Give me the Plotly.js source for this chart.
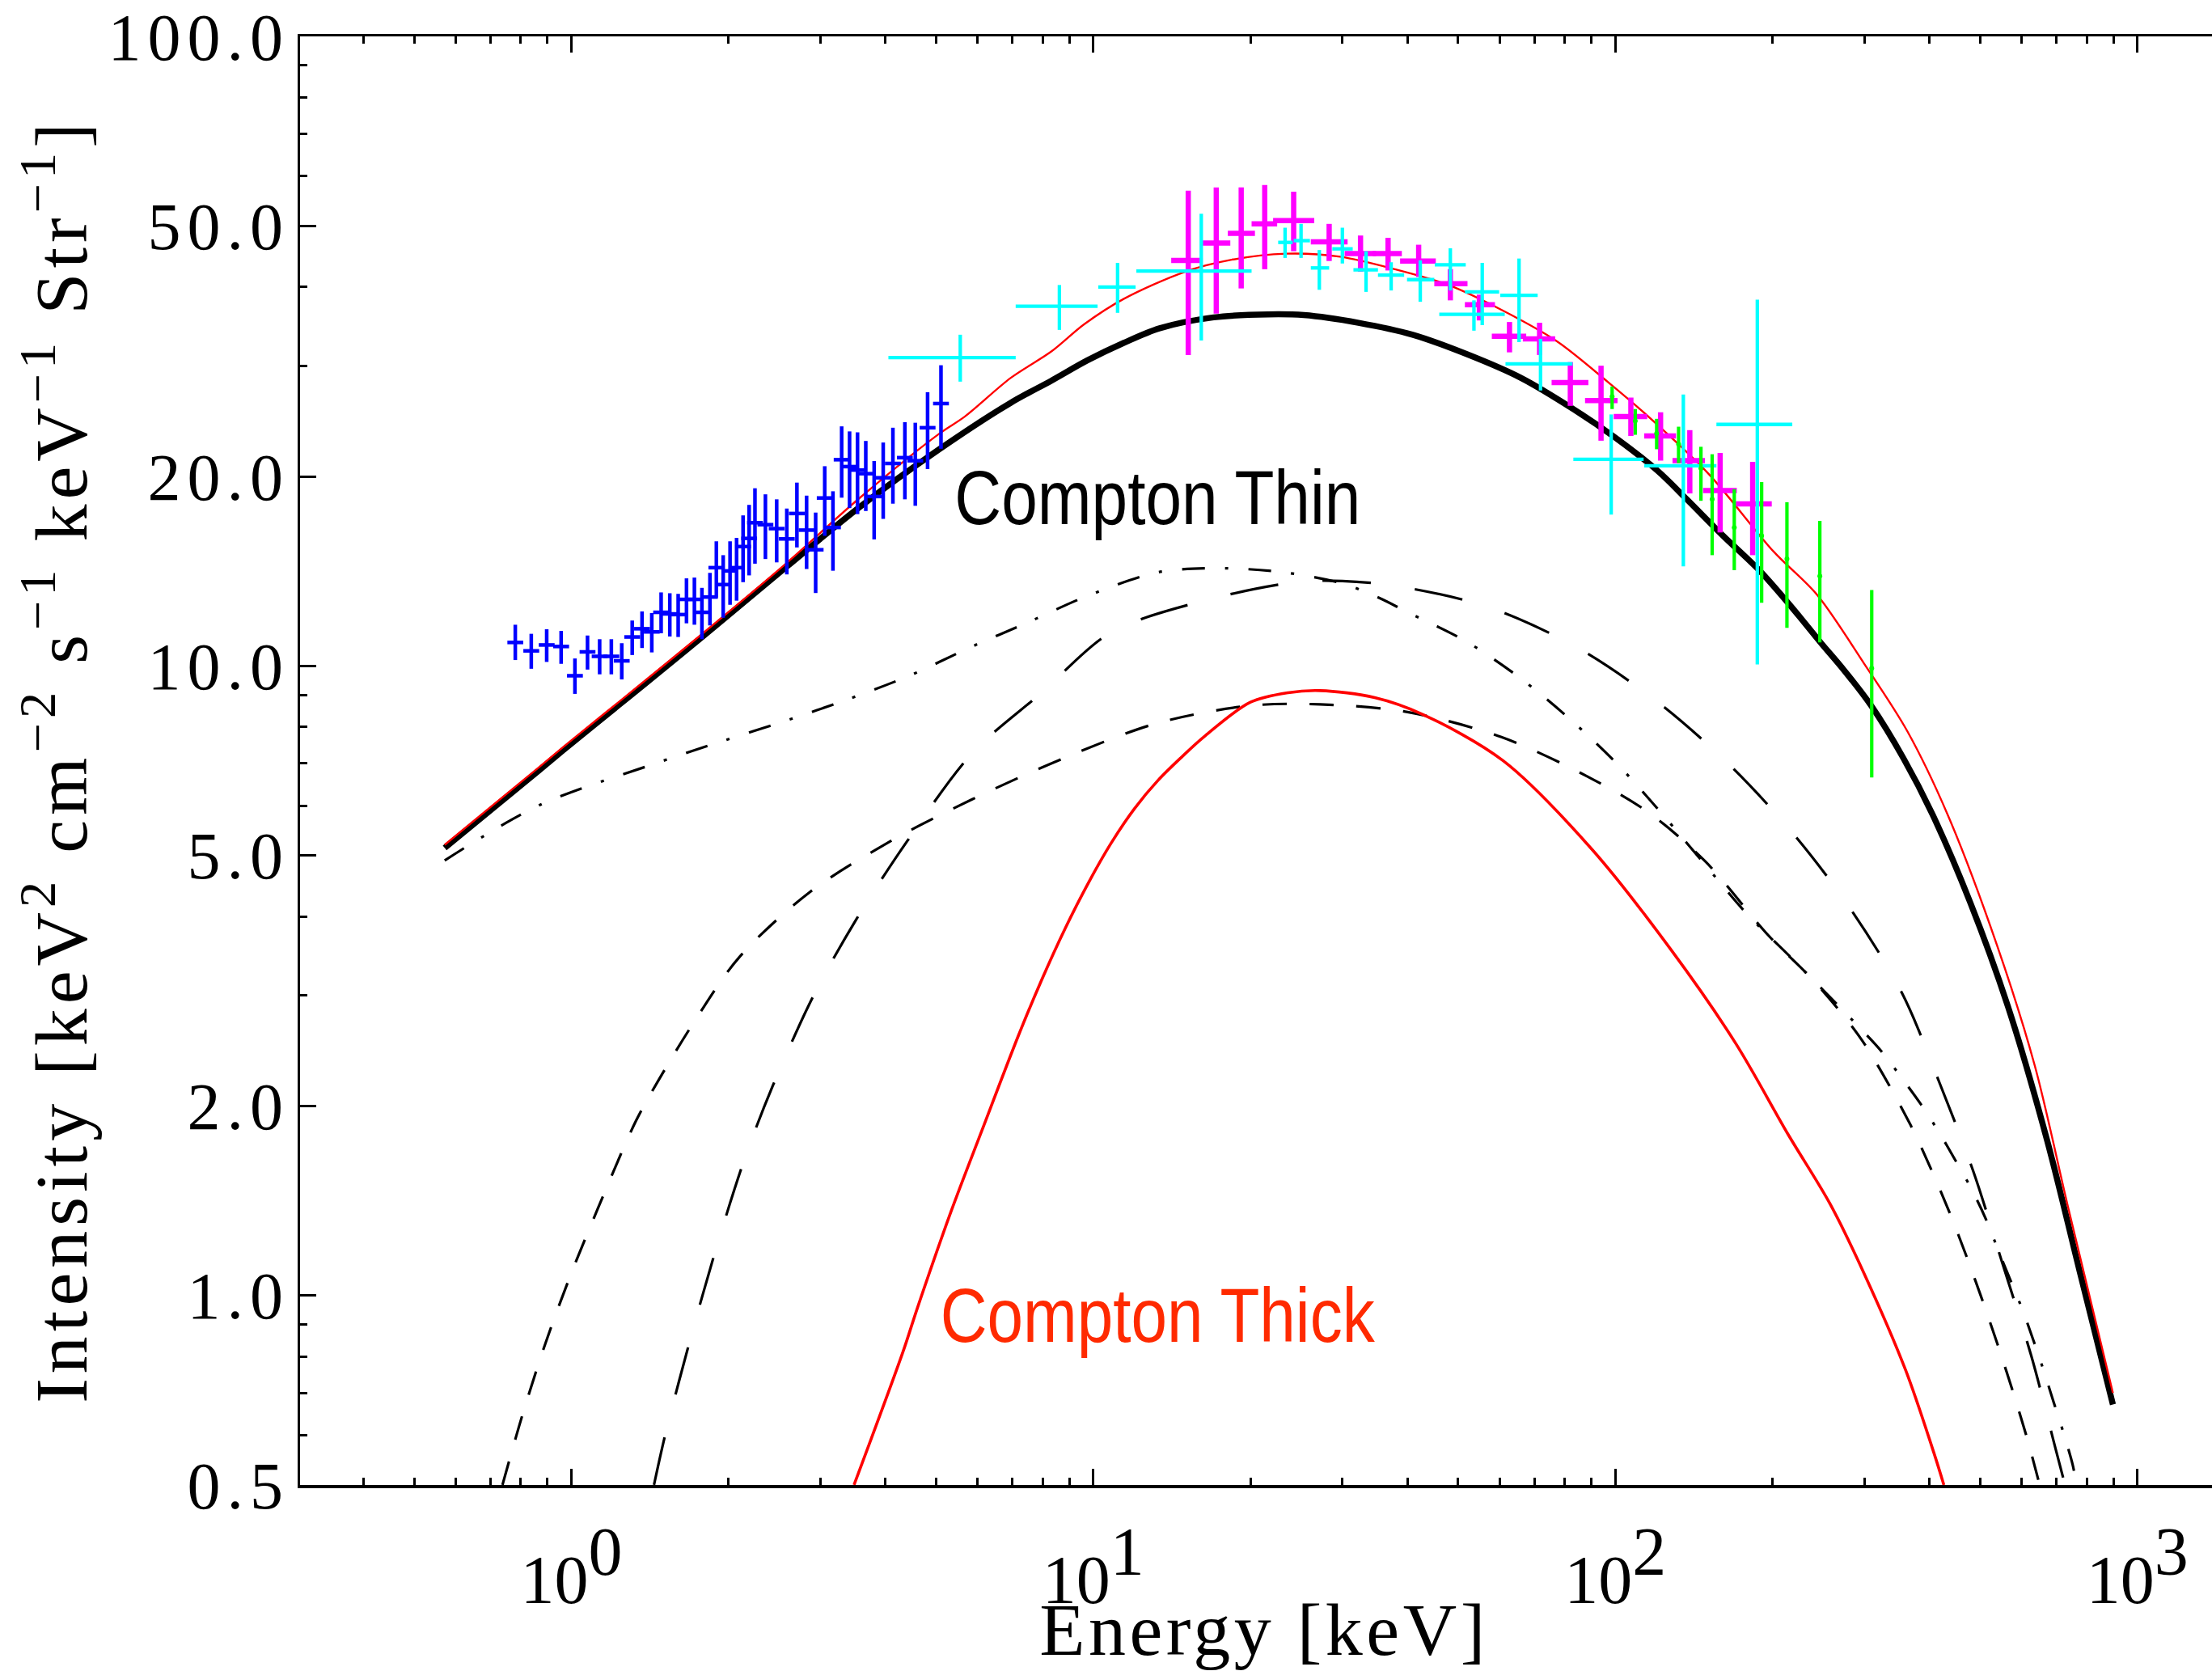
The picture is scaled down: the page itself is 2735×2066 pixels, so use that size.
<!DOCTYPE html>
<html><head><meta charset="utf-8">
<script src="https://cdn.plot.ly/plotly-3.0.1.min.js"></script>
<style>
html,body{margin:0;padding:0;background:#fff;} #chart{width:2735px;height:2066px;}
.xtitle{letter-spacing:4.5px;}
.ytitle{letter-spacing:6px;}
.ytick text{letter-spacing:8px;}
</style>
</head><body><div id="chart"></div>
<script>
// ---------- data points (Energy keV, Intensity) ----------
const blueE = [0.781,0.838,0.897,0.956,1.016,1.074,1.133,1.193,1.249,1.308,1.366,1.426,1.486,1.544,1.602,1.662,1.721,1.779,1.843,1.896,1.954,2.014,2.073,2.133,2.191,2.248,2.354,2.474,2.587,2.705,2.823,2.938,3.058,3.171,3.295,3.412,3.534,3.665,3.803,3.958,4.131,4.355,4.560,4.814,5.107];
const blueY = [10.90,10.57,10.80,10.74,9.65,10.53,10.36,10.36,10.19,11.12,11.46,11.33,12.17,12.10,12.07,12.76,12.76,12.17,12.87,14.33,13.47,14.16,14.33,15.48,15.95,16.89,16.77,16.53,15.92,17.47,16.44,15.30,18.49,16.60,21.27,20.74,20.48,20.21,18.59,19.91,20.98,21.43,21.19,23.91,26.12];
const blueYhi = [11.63,11.25,11.44,11.37,10.28,11.18,11.03,11.03,10.87,11.81,12.21,12.14,13.09,13.05,13.02,13.78,13.82,13.31,14.06,15.78,15.00,15.78,15.98,17.35,18.03,19.16,18.74,18.40,17.79,19.56,18.65,17.53,20.77,18.95,24.03,23.59,23.51,22.78,21.17,22.65,23.91,24.40,24.35,27.23,30.05];
const blueYlo = [10.22,9.90,10.15,10.08,9.03,9.87,9.70,9.70,9.52,10.41,10.68,10.51,11.27,11.14,11.12,11.69,11.63,11.03,11.60,12.85,11.93,12.51,12.70,13.59,13.93,14.54,14.79,14.61,13.98,15.43,14.26,13.06,16.10,14.17,18.51,17.82,17.43,17.63,15.89,17.13,18.11,18.40,17.97,20.55,22.14];

const cyanE   = [5.56,8.61,11.13,16.1,23.3,25.0,27.1,30.0,33.3,37.2,42.3,48.3,55.6,53.6,65.4,71.9,98.2,135,187.1];
const cyanElo = [4.05,7.10,10.22,12.09,22.6,24.2,26.1,28.7,31.5,35.1,39.9,45.1,51.5,46.0,60.2,61.6,83.1,113.6,156.2];
const cyanEhi = [7.10,10.19,12.05,20.1,24.1,26.0,28.3,31.4,35.1,39.4,45.0,51.7,59.9,61.4,71.0,82.8,113.3,156.2,218.3];
const cyanY   = [30.9,37.3,40.0,42.4,47.1,47.4,42.9,46.0,42.6,41.8,41.1,43.4,39.3,36.2,38.8,30.2,21.3,20.8,24.2];
const cyanYlo = [28.3,34.2,36.4,32.9,44.5,44.5,39.6,43.6,39.3,39.5,37.9,39.5,34.8,34.1,32.7,27.4,17.4,14.4,10.06];
const cyanYhi = [33.6,40.3,43.7,52.3,49.7,50.4,45.8,49.7,45.6,43.8,44.1,46.1,43.7,38.1,44.4,33.1,25.1,27.0,38.2];

const magE   = [15.2,17.2,19.2,21.3,24.2,28.3,32.5,36.7,42.0,48.3,54.9,62.7,71.6,82.0,93.9,107.1,122.1,138.9,158.8,183.3];
const magElo = [14.1,16.2,18.1,20.1,22.1,26.1,30.3,34.3,38.7,45.0,51.5,58.0,66.5,75.5,87.5,99.3,113.6,128.7,147.3,170.1];
const magEhi = [16.2,18.3,20.4,22.5,26.5,30.7,34.8,39.0,45.3,52.1,58.8,67.5,76.7,88.8,101.0,115.1,130.7,148.5,170.9,199.4];
const magY   = [44.1,47.0,48.7,50.4,51.0,47.2,45.2,45.2,44.0,40.5,37.5,33.4,33.1,28.2,26.4,24.9,23.2,21.2,19.0,18.1];
const magYlo = [31.2,36.3,39.8,42.7,45.6,44.0,42.3,42.5,41.5,38.1,35.4,31.5,31.2,25.9,22.8,23.2,21.2,18.8,16.3,15.0];
const magYhi = [56.9,57.6,57.6,58.1,56.7,50.4,48.3,47.9,46.7,42.7,38.9,35.2,35.1,30.4,30.0,26.7,25.3,23.7,21.8,21.1];

const greenE  = [98.6,109.2,120.0,132.2,145.9,153.3,169.0,190.7,213.2,246.5,309.9];
const greenY  = [26.8,24.5,23.4,22.5,20.6,18.4,16.6,16.1,14.8,13.9,9.92];
const greenLo = [25.6,23.3,22.1,21.0,18.3,15.0,14.2,12.6,11.5,10.9,6.65];
const greenHi = [27.8,25.6,24.7,24.0,22.3,21.7,19.1,19.6,18.2,17.0,13.2];

// ---------- model curves ----------
const thinTotalE = [0.572,0.866,1.0,1.229,1.397,1.80,2.59,3.57,5.07,6.95,8.31,9.75,11.43,13.4,17.0,21.6,25.3,32.2,40.9,51.9,65.9,83.7,99.7,120.7,137.1,160.9,188.6,217.7,247.3,274.2,309.1,356.6,404.8,478.6,565,671,776,898];
const thinTotalY = [5.14,6.82,7.53,8.65,9.43,11.2,14.4,17.9,22.1,26.2,28.4,30.6,32.6,34.4,35.8,36.2,36.1,35.1,33.6,31.3,28.7,25.5,23.1,20.4,18.4,16.1,14.2,12.4,10.9,9.85,8.65,7.13,5.82,4.21,2.88,1.77,1.09,0.671];

const grandTotalE = [0.572,0.866,1.0,1.229,1.80,2.59,3.57,5.07,5.67,6.95,8.31,9.6,11.43,14.98,18.4,23.4,29.7,37.8,47.9,60.9,77.3,96.6,117,150.9,201,243.4,299.4,362.2,433,538,636,737,898];
const grandTotalY = [5.20,6.90,7.62,8.75,11.33,14.6,18.5,23.4,24.9,28.7,31.6,34.9,38.3,42.3,44.2,45.2,44.7,42.7,40.3,36.7,32.8,28.3,24.7,20.2,15.2,12.98,10.1,7.89,5.81,3.61,2.32,1.38,0.70];

const thickE = [3.48,4.32,4.60,5.34,6.12,7.19,7.96,8.82,9.78,10.8,11.98,13.3,14.72,16.3,20.0,23.6,27.2,34.6,42.6,61.0,90.1,127.9,170.3,214.5,257.6,299.6,360.1,408.3,426];
const thickY = [0.5,0.814,0.954,1.36,1.83,2.59,3.17,3.82,4.52,5.22,5.93,6.58,7.15,7.72,8.76,9.07,9.14,8.91,8.39,7.07,5.12,3.54,2.51,1.80,1.40,1.084,0.76,0.56,0.5];

const dashDotE = [0.572,0.865,1.485,1.94,2.58,3.37,4.44,5.86,7.49,9.78,13.3,17.3,23.1,30.2,35.5,39.8,51.6,65.5,81.9,101,122.5,147.5,178.1,218.7,293,323.8,353.2,385.3,416.4,448.1,480.4,512.2,549.5,601.6,632.2,662.2,691.3,722.5,752,765];
const dashDotY = [4.91,6.0,7.05,7.59,8.19,8.84,9.65,10.74,11.73,12.94,14.09,14.3,14.09,13.5,12.8,12.2,10.96,9.59,8.23,6.98,5.84,4.87,4.05,3.42,2.67,2.44,2.22,2.01,1.82,1.64,1.48,1.325,1.144,0.952,0.849,0.758,0.677,0.604,0.538,0.5];

const longDashE = [1.44,1.512,1.685,1.891,2.151,2.43,2.92,3.51,4.40,5.86,7.96,10.8,16.3,24.6,30.0,38.1,57.2,84.5,120,165,219.8,283.5,354.3,417.6,485.7,551.3,626.9,697.9,727];
const longDashY = [0.5,0.599,0.844,1.182,1.654,2.15,3.01,3.95,5.27,7.27,9.07,11.3,12.7,13.6,13.65,13.4,12.4,10.7,8.79,6.98,5.40,4.09,3.02,2.18,1.57,1.126,0.80,0.569,0.5];

const shortDashE = [0.738,0.807,0.892,0.997,1.122,1.33,1.475,1.748,2.10,2.86,4.09,5.86,8.82,13.3,20.0,27.2,40.0,60.5,88.6,116.2,148.8,196.6,241.7,297.2,367.2,402.2,437.5,471.6,506.8,543.3,580,616.5,650];
const shortDashY = [0.5,0.648,0.839,1.078,1.369,1.894,2.21,2.78,3.45,4.37,5.27,6.14,7.15,8.12,8.65,8.69,8.45,7.71,6.67,5.84,4.89,3.73,3.14,2.54,1.87,1.59,1.35,1.149,0.974,0.823,0.696,0.589,0.5];

// ---------- axes ticks ----------
const xTickVals = [1,10,100,1000];
const xTickExp  = ['0','1','2','3'];
const xMinorVals = [0.4,0.5,0.6,0.7,0.8,0.9,2,3,4,5,6,7,8,9,20,30,40,50,60,70,80,90,200,300,400,500,600,700,800,900];
const yTickVals = [0.5,1,2,5,10,20,50,100];
const yTickText = ['0.5','1.0','2.0','5.0','10.0','20.0','50.0','100.0'];
const yMinorVals = [0.6,0.7,0.8,0.9,3,4,6,7,8,9,30,40,60,70,80,90];

const labelThin = 'Compton Thin';
const labelThick = 'Compton Thick';

// ---------- build traces ----------
const sub = (a,b) => a.map((v,i)=>v-b[i]);
function curve(x,y,color,width,dash){
  return {type:'scatter',mode:'lines',x:x,y:y,hoverinfo:'skip',
    line:{color:color,width:width,dash:dash,shape:'spline',smoothing:0.9}};
}
function errPts(x,y,xlo,xhi,ylo,yhi,color,thick,marker){
  const t = {type:'scatter',mode:'markers',x:x,y:y,hoverinfo:'skip',marker:marker,
    error_y:{type:'data',symmetric:false,array:sub(yhi,y),arrayminus:sub(y,ylo),color:color,thickness:thick,width:0}};
  if(xlo){ t.error_x = {type:'data',symmetric:false,array:sub(xhi,x),arrayminus:sub(x,xlo),color:color,thickness:thick,width:0}; }
  return t;
}
const traces = [
  curve(shortDashE, shortDashY, '#000', 3.2, '30px,28px'),
  curve(longDashE, longDashY, '#000', 3.2, '60px,55px'),
  curve(dashDotE, dashDotY, '#000', 3.2, '28px,25px,4px,25px'),
  curve(thickE, thickY, '#ff0000', 3.6, 'solid'),
  curve(thinTotalE, thinTotalY, '#000', 7.5, 'solid'),
  curve(grandTotalE, grandTotalY, '#ff0000', 2.4, 'solid'),
  errPts(blueE, blueY, null, null, blueYlo, blueYhi, '#0000ff', 4.5,
         {symbol:'line-ew',size:14,color:'#0000ff',line:{color:'#0000ff',width:4.5}}),
  errPts(magE, magY, magElo, magEhi, magYlo, magYhi, '#ff00ff', 6.5, {size:1,color:'#ff00ff'}),
  errPts(cyanE, cyanY, cyanElo, cyanEhi, cyanYlo, cyanYhi, '#00ffff', 4.3, {size:1,color:'#00ffff'}),
  errPts(greenE, greenY, null, null, greenLo, greenHi, '#00ff00', 4.2, {size:6,color:'#00ff00'})
];

const serif = 'Liberation Serif, DejaVu Serif, serif';
const layout = {
  width:2735, height:2066,
  margin:{l:371, r:0, t:45, b:230},
  paper_bgcolor:'#fff', plot_bgcolor:'#fff',
  showlegend:false, hovermode:false,
  xaxis:{type:'log', range:[-0.5197, 3.1431], tickmode:'array', tickvals:xTickVals,
    ticktext:xTickExp.map(e => '10<sup><span style="font-size:84px">'+e+'</span></sup>'),
    ticks:'inside', ticklen:20, tickwidth:3, tickcolor:'#000', showline:true, linewidth:3.5, linecolor:'#000',
    mirror:'ticks', showgrid:false, zeroline:false, tickfont:{family:serif, size:84, color:'#000'},
    ticklabelstandoff:42, automargin:false,
    minor:{tickmode:'array', tickvals:xMinorVals, ticks:'inside', ticklen:9, tickwidth:3, tickcolor:'#000', showgrid:false},
    title:{text:'Energy [keV]', font:{family:serif, size:92, color:'#000'}, standoff:16}},
  yaxis:{type:'log', range:[-0.30115, 2.0003], tickmode:'array', tickvals:yTickVals, ticktext:yTickText,
    ticks:'inside', ticklen:20, tickwidth:3, tickcolor:'#000', showline:true, linewidth:3.5, linecolor:'#000',
    mirror:false, showgrid:false, zeroline:false, tickfont:{family:serif, size:82, color:'#000'},
    ticklabelstandoff:-7, automargin:false,
    minor:{tickmode:'array', tickvals:yMinorVals, ticks:'inside', ticklen:9, tickwidth:3, tickcolor:'#000', showgrid:false},
    title:{text:'Intensity [keV<sup>2</sup> cm<sup>\u22122</sup> s<sup>\u22121</sup> keV<sup>\u22121</sup> Str<sup>\u22121</sup>]',
           font:{family:serif, size:92, color:'#000'}, standoff:11}},
  annotations:[
    {xref:'paper', yref:'paper', x:0.4488, y:0.6817, xanchor:'center', yanchor:'middle', showarrow:false,
     text:labelThin, font:{family:'Liberation Sans, Arial, sans-serif', size:94, color:'#000'}},
    {xref:'paper', yref:'paper', x:0.4488, y:0.1172, xanchor:'center', yanchor:'middle', showarrow:false,
     text:labelThick, font:{family:'Liberation Sans, Arial, sans-serif', size:94, color:'#ff2a00'}}
  ]
};
Plotly.newPlot('chart', traces, layout, {staticPlot:true, displayModeBar:false}).then(function(gd){
  // condensed look of the original label font: squeeze glyphs to the reference widths
  gd.querySelectorAll('text.annotation-text').forEach(function(t){
    var w = t.textContent === labelThin ? 502 : 537;
    t.setAttribute('textLength', w);
    t.setAttribute('lengthAdjust', 'spacingAndGlyphs');
  });
  // the original x title sits slightly right of the plot centre
  var xt = gd.querySelector('text.xtitle');
  if(xt){ xt.setAttribute('x', parseFloat(xt.getAttribute('x')) + 10); }
  // the original y title sits a little closer to the tick labels
  var yt = gd.querySelector('text.ytitle');
  if(yt){ yt.setAttribute('transform', 'translate(11,0) ' + (yt.getAttribute('transform') || '')); }
});
</script>
</body></html>
